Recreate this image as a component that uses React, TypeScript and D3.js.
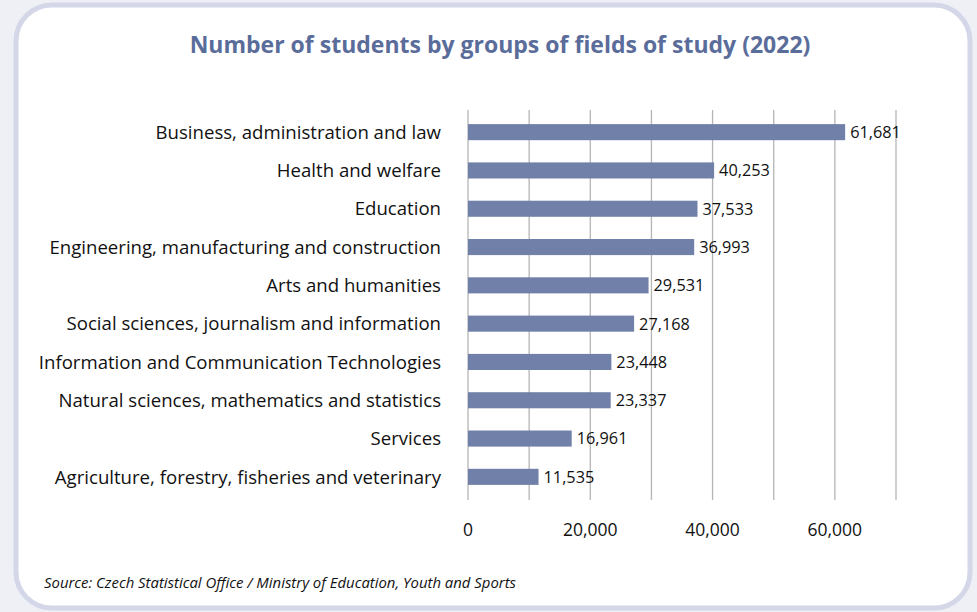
import React, { useEffect, useRef } from "react";
import * as d3 from "d3";

const categories = [
  "Business, administration and law",
  "Health and welfare",
  "Education",
  "Engineering, manufacturing and construction",
  "Arts and humanities",
  "Social sciences, journalism and information",
  "Information and Communication Technologies",
  "Natural sciences, mathematics and statistics",
  "Services",
  "Agriculture, forestry, fisheries and veterinary",
];
const values = [61681, 40253, 37533, 36993, 29531, 27168, 23448, 23337, 16961, 11535];
const gridTicks = [0, 10000, 20000, 30000, 40000, 50000, 60000, 70000];
const labelTicks = [0, 20000, 40000, 60000];
const title = "Number of students by groups of fields of study (2022)";
const source = "Source: Czech Statistical Office / Ministry of Education, Youth and Sports";

const W = 977;
const H = 612;
const FONT = "'Open Sans', 'Noto Sans', sans-serif";

export default function App() {
  const ref = useRef<SVGSVGElement>(null);
  useEffect(() => {
    const svg = d3.select(ref.current);
    svg.selectAll("*").remove();

    svg.append("rect").attr("x", 0).attr("y", 0).attr("width", W).attr("height", H).attr("fill", "#eef0f5");
    svg.append("rect")
      .attr("x", 16).attr("y", 5).attr("width", 954).attr("height", 603)
      .attr("rx", 36).attr("ry", 36)
      .attr("fill", "#ffffff").attr("stroke", "#d3d7e8").attr("stroke-width", 5);

    const x = d3.scaleLinear().domain([0, 70000]).range([468, 896]);
    const y = d3.scaleBand<string>().domain(categories).range([113, 496]).paddingInner(0.58).paddingOuter(0.29);

    svg.append("text")
      .attr("x", 500).attr("y", 53).attr("text-anchor", "middle")
      .attr("font-family", FONT).attr("font-weight", 700).attr("font-size", 23)
      .attr("fill", "#5a6c9a").text(title);

    svg.append("g").selectAll("line").data(gridTicks).join("line")
      .attr("x1", (d) => x(d)).attr("x2", (d) => x(d))
      .attr("y1", 110).attr("y2", 500)
      .attr("stroke", "#b5b5b5").attr("stroke-width", 1.3);

    svg.append("g").selectAll("rect").data(values).join("rect")
      .attr("x", x(0)).attr("y", (_, i) => y(categories[i])!)
      .attr("width", (d) => x(d) - x(0)).attr("height", y.bandwidth())
      .attr("fill", "#7180a9");

    svg.append("g").selectAll("text").data(values).join("text")
      .attr("x", (d) => x(d) + 5).attr("y", (_, i) => y(categories[i])! + y.bandwidth() / 2)
      .attr("dy", "0.36em")
      .attr("font-family", FONT).attr("font-size", 16.3).attr("fill", "#111")
      .text((d) => d3.format(",")(d));

    svg.append("g").selectAll("text").data(categories).join("text")
      .attr("x", 441).attr("y", (d) => y(d)! + y.bandwidth() / 2)
      .attr("dy", "0.36em").attr("text-anchor", "end")
      .attr("font-family", FONT).attr("font-size", 18.6).attr("fill", "#111")
      .text((d) => d);

    svg.append("g").selectAll("text").data(labelTicks).join("text")
      .attr("x", (d) => x(d)).attr("y", 530).attr("dy", "0.36em").attr("text-anchor", "middle")
      .attr("font-family", FONT).attr("font-size", 17.5).attr("fill", "#111")
      .text((d) => d3.format(",")(d));

    svg.append("text")
      .attr("x", 44).attr("y", 588)
      .attr("font-family", FONT).attr("font-style", "italic").attr("font-size", 14.9)
      .attr("fill", "#111").text(source);
  }, []);

  return (
    <div style={{ position: "fixed", left: 0, top: 0, width: W, height: H }}>
      <svg ref={ref} width={W} height={H} style={{ display: "block" }} />
    </div>
  );
}
